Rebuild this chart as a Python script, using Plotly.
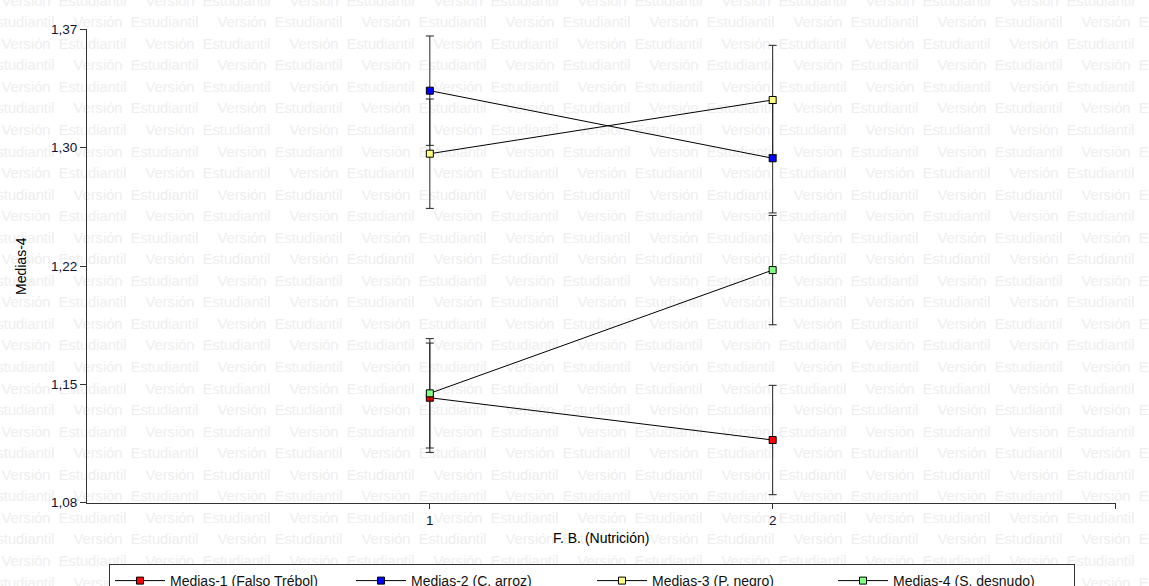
import plotly.graph_objects as go

# Factor levels on the x axis
niveles = [1, 2]

# Mean values per series (one value per nutrition level)
medias_1 = [1.1443, 1.1184]   # Falso Trébol
medias_2 = [1.3324, 1.2910]   # C. arroz
medias_3 = [1.2938, 1.3267]   # P. negro
medias_4 = [1.1470, 1.2225]   # S. desnudo
error_est = 0.0335            # half-width of each interval bar

nombres = ["Medias-1 (Falso Trébol)", "Medias-2 (C. arroz)",
           "Medias-3 (P. negro)", "Medias-4 (S. desnudo)"]
colores = ["#ff0000", "#0000ff", "#ffff80", "#80ff80"]

# Y axis ticks and labels (comma decimal separator)
y_ticks = [1.08, 1.1525, 1.225, 1.2975, 1.37]
y_labels = ["1,08", "1,15", "1,22", "1,30", "1,37"]
x_ticks = [1, 2, 3]
x_labels = ["1", "2", ""]

W, H = 1149, 586
FONT = "Arial, Liberation Sans, sans-serif"

# plot area in pixels
L, R, T, B = 87, 1115.5, 29.3, 502.7

fig = go.Figure()

# tiled background watermark, drawn on a full-page subplot under the chart
marca = "Versión\u00a0\u00a0Estudiantil"
wx, wy, wt = [], [], []
for k in range(29):
    yy = 2.0 + 21.55 * k
    start = 64 if k % 2 == 0 else -8
    for j in range(10):
        xx = start + 144 * j
        if xx - 70 > W:
            break
        wx.append(xx)
        wy.append(yy)
        wt.append(marca)
fig.add_trace(go.Scatter(
    x=wx, y=wy, text=wt, mode="text", textposition="middle center",
    textfont=dict(family=FONT, size=14.7, color="#eeeeee"),
    hoverinfo="skip", showlegend=False, xaxis="x", yaxis="y"))

series = [medias_1, medias_2, medias_3, medias_4]
for nombre, color, vals in zip(nombres, colores, series):
    fig.add_trace(go.Scatter(
        x=niveles, y=vals, name=nombre, mode="lines+markers",
        line=dict(color="#000000", width=1),
        marker=dict(symbol="square", size=7, color=color,
                    line=dict(color="#000000", width=1)),
        error_y=dict(type="constant", value=error_est, color="#222222",
                     thickness=1, width=4),
        xaxis="x2", yaxis="y2"))

fig.update_layout(
    width=W, height=H,
    margin=dict(l=0, r=0, t=0, b=0, autoexpand=False),
    paper_bgcolor="#ffffff",
    plot_bgcolor="rgba(0,0,0,0)",
    font=dict(family=FONT, size=14, color="#111111"),
    xaxis=dict(domain=[0, 1], range=[0, W], visible=False, fixedrange=True),
    yaxis=dict(domain=[0, 1], range=[H, 0], visible=False, fixedrange=True),
    xaxis2=dict(
        domain=[L / W, R / W], range=[0, 3], anchor="y2",
        tickmode="array", tickvals=x_ticks, ticktext=x_labels,
        showline=True, linecolor="#333333", linewidth=1.2,
        ticks="outside", ticklen=5, tickcolor="#333333",
        showgrid=False, zeroline=False,
        tickfont=dict(family=FONT, size=13.5, color="#111133")),
    yaxis2=dict(
        domain=[(H - B) / H, (H - T) / H], range=[1.08, 1.37], anchor="x2",
        tickmode="array", tickvals=y_ticks, ticktext=y_labels,
        showline=True, linecolor="#333333", linewidth=1.2,
        ticks="outside", ticklen=6, tickcolor="#333333",
        showgrid=False, zeroline=False,
        tickfont=dict(family=FONT, size=13.5, color="#111133")),
    legend=dict(
        orientation="h", x=109 / W, xanchor="left",
        y=(H - 564) / H, yanchor="top",
        bgcolor="#ffffff", bordercolor="#333333", borderwidth=1,
        font=dict(family=FONT, size=14, color="#111111"),
        itemwidth=50, entrywidth=176, entrywidthmode="pixels",
        traceorder="normal"),
    annotations=[
        dict(text="F. B. (Nutrición)", xref="paper", yref="paper",
             x=(L + R) / 2 / W, y=(H - 538) / H, xanchor="center",
             yanchor="middle", showarrow=False,
             font=dict(family=FONT, size=14, color="#000000")),
        dict(text="Medias-4", xref="paper", yref="paper",
             x=21 / W, y=(H - 266) / H, xanchor="center", yanchor="middle",
             textangle=-90, showarrow=False,
             font=dict(family=FONT, size=14, color="#000000")),
    ],
)

fig.write_html("out.html")
